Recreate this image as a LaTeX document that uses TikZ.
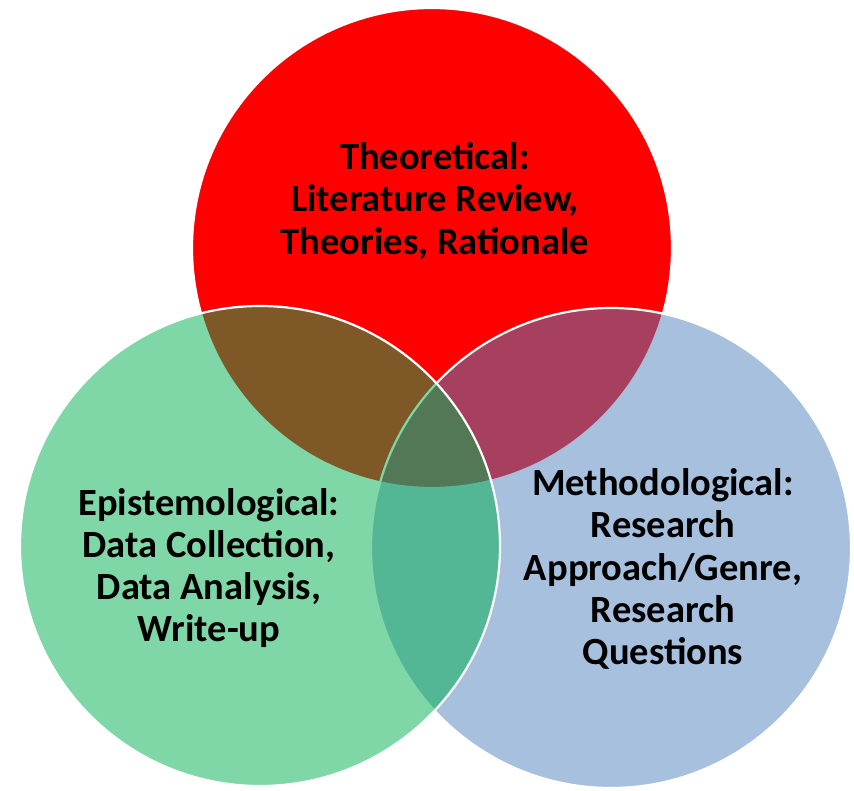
\documentclass[tikz,border=0pt]{standalone}
\usepackage{fontspec}
\setmainfont{Carlito}
\definecolor{cred}{RGB}{255,0,0}
\definecolor{cblue}{RGB}{79,129,189}
\definecolor{cgreen}{RGB}{0,176,80}
\begin{document}
\begin{tikzpicture}[x=1pt,y=-1pt,
  circ/.style={draw=white,line width=2.2pt},
  lbl/.style={font=\fontsize{38.5}{42.2}\selectfont\bfseries,align=center,text=black}]
\useasboundingbox (0,0) rectangle (854,790);
\node[circ,circle,fill=cred,minimum size=480pt,inner sep=0pt] (red) at (432,248) {};
\node[circ,circle,fill=cblue,fill opacity=0.5,minimum size=480pt,inner sep=0pt] (blue) at (611,548) {};
\node[circ,circle,fill=cgreen,fill opacity=0.5,minimum size=480pt,inner sep=0pt] (green) at (260,546) {};
\node[lbl] (t) at (435,201) {Theoretical:\\Literature Review,\\Theories, Rationale};
\node[lbl] (e) at (209,568) {Epistemological:\\Data Collection,\\Data Analysis,\\Write-up};
\node[lbl] (m) at (663,569) {Methodological:\\Research\\Approach/Genre,\\Research\\Questions};
\end{tikzpicture}
\end{document}
